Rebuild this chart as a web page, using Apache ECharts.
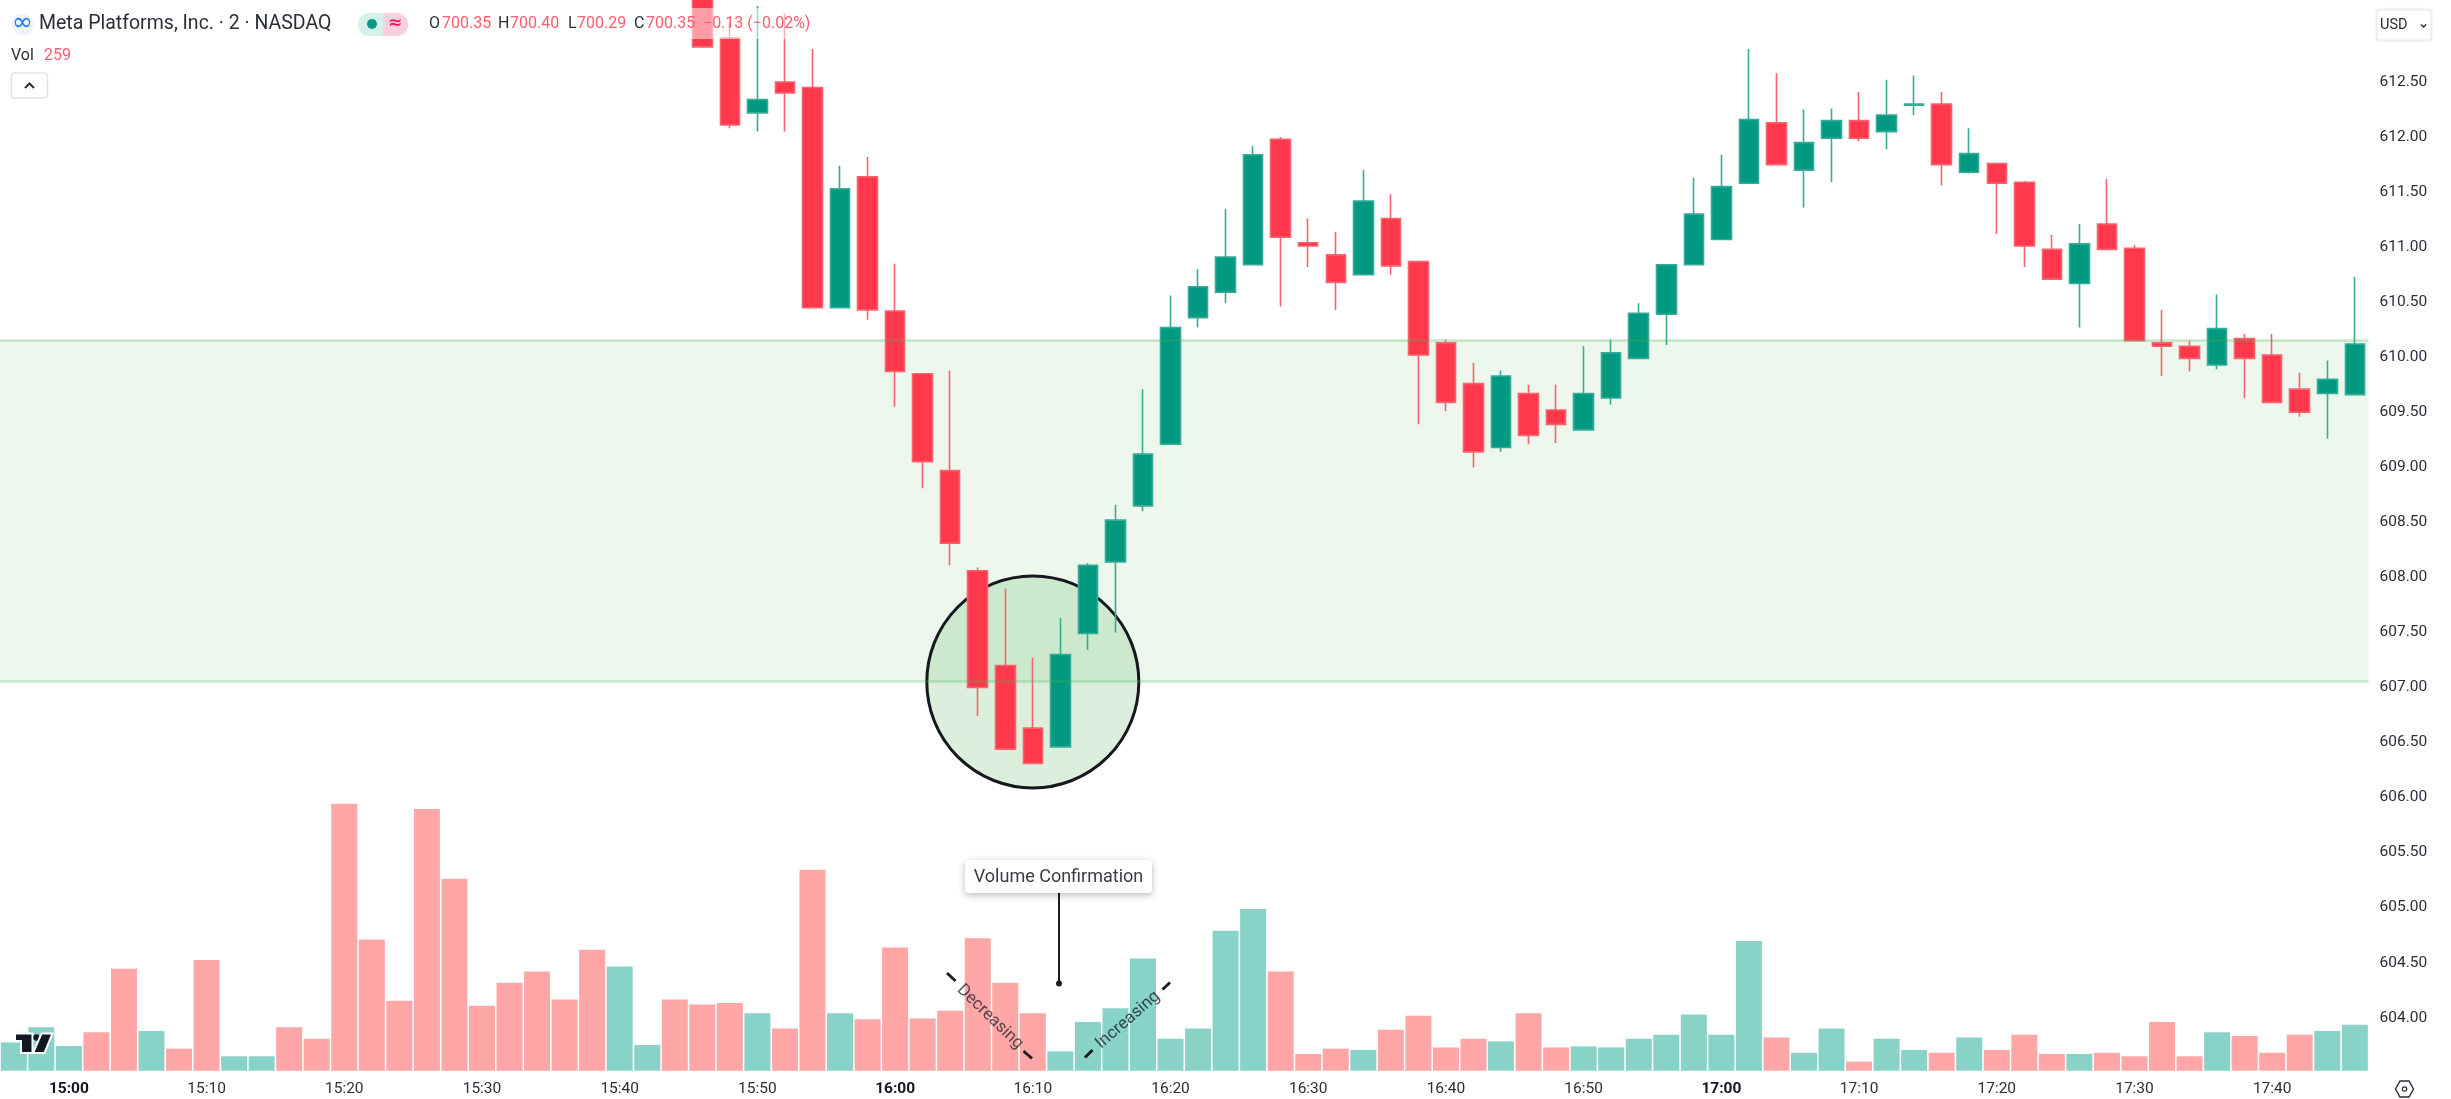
<!DOCTYPE html>
<html>
<head>
<meta charset="utf-8">
<title>META 2m</title>
<style>
html, body { margin: 0; padding: 0; background: #fff; }
#chart { width: 2451px; height: 1099px; }
</style>
<script src="https://cdn.jsdelivr.net/npm/echarts@6/dist/echarts.min.js"></script>
</head>
<body>
<div id="chart"></div>
<script>
var times = ['14:56','14:58','15:00','15:02','15:04','15:06','15:08','15:10','15:12','15:14','15:16','15:18','15:20','15:22','15:24','15:26','15:28','15:30','15:32','15:34','15:36','15:38','15:40','15:42','15:44','15:46','15:48','15:50','15:52','15:54','15:56','15:58','16:00','16:02','16:04','16:06','16:08','16:10','16:12','16:14','16:16','16:18','16:20','16:22','16:24','16:26','16:28','16:30','16:32','16:34','16:36','16:38','16:40','16:42','16:44','16:46','16:48','16:50','16:52','16:54','16:56','16:58','17:00','17:02','17:04','17:06','17:08','17:10','17:12','17:14','17:16','17:18','17:20','17:22','17:24','17:26','17:28','17:30','17:32','17:34','17:36','17:38','17:40','17:42','17:44','17:46'];

var tickLabels = ['15:00','15:10','15:20','15:30','15:40','15:50','16:00','16:10','16:20','16:30','16:40','16:50','17:00','17:10','17:20','17:30','17:40'];
var boldLabels = ['15:00','16:00','17:00'];

// bars before 15:46 are above the visible price range
var hiddenCandles = 25;

// open, close, low, high from 15:46
var candles = [
    [613.60,612.82,612.81,613.80],[612.90,612.11,612.08,613.04],[612.22,612.34,612.05,613.19],[612.50,612.40,612.05,613.12],
    [612.45,610.45,610.45,612.80],[610.45,611.53,610.45,611.74],[611.64,610.43,610.34,611.82],[610.42,609.87,609.55,610.85],
    [609.85,609.05,608.81,609.85],[608.97,608.31,608.11,609.88],[608.06,607.00,606.74,608.09],[607.20,606.44,606.44,607.90],
    [606.63,606.31,606.31,607.27],[606.46,607.30,606.46,607.63],[607.49,608.11,607.34,608.13],[608.14,608.52,607.50,608.66],
    [608.65,609.12,608.60,609.71],[609.21,610.27,609.21,610.56],[610.36,610.64,610.27,610.80],[610.59,610.91,610.49,611.35],
    [610.84,611.84,610.84,611.92],[611.98,611.09,610.46,612.00],[611.04,611.01,610.82,611.26],[610.93,610.68,610.43,611.14],
    [610.75,611.42,610.75,611.70],[611.26,610.83,610.75,611.48],[610.87,610.02,609.39,610.87],[610.13,609.59,609.51,610.16],
    [609.76,609.14,609.00,609.95],[609.18,609.83,609.14,609.88],[609.67,609.29,609.21,609.75],[609.52,609.39,609.22,609.75],
    [609.34,609.67,609.34,610.10],[609.63,610.04,609.57,610.16],[609.99,610.40,609.99,610.49],[610.39,610.84,610.11,610.84],
    [610.84,611.30,610.84,611.63],[611.07,611.55,611.07,611.84],[611.58,612.16,611.58,612.80],[612.13,611.75,611.75,612.58],
    [611.70,611.95,611.36,612.25],[611.99,612.15,611.59,612.26],[612.15,611.99,611.96,612.41],[612.05,612.20,611.89,612.52],
    [612.29,612.30,612.20,612.56],[612.30,611.75,611.56,612.41],[611.68,611.85,611.67,612.08],[611.76,611.58,611.12,611.76],
    [611.59,611.01,610.82,611.60],[610.98,610.71,610.71,611.11],[610.67,611.03,610.27,611.21],[611.21,610.98,610.98,611.62],
    [610.99,610.15,610.15,611.02],[610.13,610.10,609.83,610.43],[610.10,609.99,609.87,610.15],[609.93,610.26,609.89,610.57],
    [610.17,609.99,609.63,610.21],[610.02,609.59,609.59,610.21],[609.71,609.50,609.46,609.86],[609.67,609.80,609.26,609.97],
    [609.66,610.12,609.66,610.73]
];

var volumes = [159,244,139,216,574,224,124,623,81,81,244,180,1503,738,394,1473,1081,366,495,559,401,681,587,145,401,373,381,323,238,1132,323,289,694,294,338,745,495,323,109,274,351,631,180,238,788,910,559,94,124,117,231,310,131,180,165,323,131,137,131,180,203,317,203,730,187,101,238,51,180,117,101,187,117,203,94,94,101,81,274,81,216,195,101,203,224,259];
var volumeUp = [1,1,1,0,0,1,0,0,1,1, 0,0,0,0,0,0,0,0,0,0, 0,0,1,1,0,0,0,1,0,0, 1,0,0,0,0,0,0,0,1,1, 1,1,1,1,1,1,0,0,0,1, 0,0,0,0,1,0,0,1,1,1, 1,1,1,1,0,1,1,0,1,1, 0,1,0,0,0,1,0,0,0,0, 1,0,0,0,1,1];

var zoneTop = 610.15;
var zoneBottom = 607.06;
var circleCenter = ['16:10', 607.05];

var FONT = 'Roboto, "Noto Sans", sans-serif';
var INK = '#2a2e39';
var RED = '#ff5c6c';

var candleRows = [];
for (var i = 0; i < hiddenCandles; i++) candleRows.push(['-', '-', '-', '-']);
candleRows = candleRows.concat(candles);

var volumeRows = volumes.map(function (v, i) {
    return { value: v, itemStyle: { color: volumeUp[i] ? '#89d2c8' : '#ffa6a6' } };
});

function label(x, y, text, size, color, extra) {
    return {
        type: 'text', x: x, y: y, z: 50, silent: true,
        style: Object.assign({ text: text, font: (size || 16) + 'px ' + FONT, fill: color || INK, verticalAlign: 'middle' }, extra || {})
    };
}
function tick(x1, y1, x2, y2) {
    return {
        type: 'line', z: 50, silent: true,
        shape: { x1: x1, y1: y1, x2: x2, y2: y2 },
        style: { stroke: '#1b1d24', lineWidth: 3 }
    };
}

var graphics = [
    // header fades the candles behind it
    { type: 'rect', z: 40, silent: true, shape: { x: 0, y: 8, width: 815, height: 31 }, style: { fill: 'rgba(255,255,255,0.5)' } },
    { type: 'circle', z: 50, silent: true, shape: { cx: 22.5, cy: 24.5, r: 11 }, style: { fill: '#f0f3fa' } },
    label(22.5, 23, '∞', 25, '#1a7dff', { textAlign: 'center', font: '25px "DejaVu Sans"' }),
    label(39, 24, 'Meta Platforms, Inc. · 2 · NASDAQ', 19.5, INK),
    { type: 'rect', z: 50, silent: true, shape: { x: 358, y: 13, width: 26, height: 23, r: [11, 0, 0, 11] }, style: { fill: '#d5f1ec' } },
    { type: 'rect', z: 50, silent: true, shape: { x: 383, y: 13, width: 25, height: 23, r: [0, 11, 11, 0] }, style: { fill: '#fbd0de' } },
    { type: 'circle', z: 51, silent: true, shape: { cx: 372, cy: 24, r: 5 }, style: { fill: '#089981' } },
    label(395, 24, '≈', 17, '#e91e63', { textAlign: 'center', font: 'bold 17px "DejaVu Sans"' }),
    label(429, 24, 'O', 16, INK), label(442, 24, '700.35', 16, RED),
    label(498, 24, 'H', 16, INK), label(510, 24, '700.40', 16, RED),
    label(568, 24, 'L', 16, INK), label(577, 24, '700.29', 16, RED),
    label(634, 24, 'C', 16, INK), label(646, 24, '700.35', 16, RED),
    label(703, 24, '−0.13 (−0.02%)', 16, RED),
    label(11, 56, 'Vol', 16, INK), label(44, 56, '259', 16, RED),
    {
        type: 'rect', z: 50, silent: true, shape: { x: 11.5, y: 73, width: 36, height: 25, r: 3 },
        style: { fill: '#fff', stroke: '#e0e3eb', lineWidth: 1.5 }
    },
    {
        type: 'polyline', z: 51, silent: true, shape: { points: [[25, 88], [29.5, 83.5], [34, 88]] },
        style: { stroke: '#2a2e39', lineWidth: 2, fill: 'none' }
    },

    // currency button
    {
        type: 'rect', z: 50, silent: true, shape: { x: 2376.5, y: 9.5, width: 55, height: 31, r: 3 },
        style: { fill: '#fff', stroke: '#eceef2', lineWidth: 1.5, shadowBlur: 2, shadowColor: 'rgba(0,0,0,0.08)' }
    },
    label(2380, 25, 'USD', 14.5, INK),
    {
        type: 'polyline', z: 51, silent: true, shape: { points: [[2421, 24.5], [2423.5, 27], [2426, 24.5]] },
        style: { stroke: '#2a2e39', lineWidth: 1.5, fill: 'none' }
    },

    // callout
    {
        type: 'rect', z: 50, silent: true, shape: { x: 965, y: 860, width: 187, height: 33, r: 4 },
        style: { fill: '#fff', shadowBlur: 7, shadowOffsetY: 2, shadowColor: 'rgba(0,0,0,0.28)' }
    },
    label(1058.5, 877, 'Volume Confirmation', 18, '#3b3d45', { textAlign: 'center' }),
    { type: 'line', z: 50, silent: true, shape: { x1: 1059, y1: 893, x2: 1059, y2: 983 }, style: { stroke: '#1b1d24', lineWidth: 2 } },
    { type: 'circle', z: 50, silent: true, shape: { cx: 1059, cy: 983.5, r: 3 }, style: { fill: '#1b1d24' } },

    // Decreasing / Increasing notes
    tick(947, 973, 955.5, 981), tick(1023.5, 1051, 1032, 1058.5),
    tick(1085, 1057.5, 1092.5, 1050), tick(1162.5, 989.5, 1170, 982.5),
    {
        type: 'text', x: 990, y: 1017, rotation: -44 * Math.PI / 180, z: 50, silent: true,
        style: { text: 'Decreasing', font: '17px ' + FONT, fill: 'rgba(19,23,34,0.72)', textAlign: 'center', verticalAlign: 'middle' }
    },
    {
        type: 'text', x: 1128, y: 1020, rotation: 41 * Math.PI / 180, z: 50, silent: true,
        style: { text: 'Increasing', font: '17px ' + FONT, fill: 'rgba(19,23,34,0.76)', textAlign: 'center', verticalAlign: 'middle' }
    },

    // TradingView mark
    {
        type: 'polygon', z: 50, silent: true,
        shape: { points: [[15, 1033.5], [32.5, 1033.5], [32.5, 1053], [21, 1053], [21, 1041], [15, 1041]] },
        style: { fill: '#131722', stroke: '#fff', lineWidth: 2 }
    },
    { type: 'circle', z: 50, silent: true, shape: { cx: 36.5, cy: 1037.5, r: 3.2 }, style: { fill: '#131722' } },
    {
        type: 'polygon', z: 50, silent: true,
        shape: { points: [[41.5, 1033.5], [52.5, 1033.5], [44.5, 1053], [33, 1053]] },
        style: { fill: '#131722', stroke: '#fff', lineWidth: 2 }
    },

    // chart settings hexagon
    {
        type: 'polygon', z: 50, silent: true,
        shape: { points: [[2395.5, 1089], [2400, 1081], [2409, 1081], [2413.5, 1089], [2409, 1097], [2400, 1097]] },
        style: { fill: 'none', stroke: '#2a2e39', lineWidth: 1.4 }
    },
    { type: 'circle', z: 50, silent: true, shape: { cx: 2404.5, cy: 1089, r: 2.2 }, style: { fill: 'none', stroke: '#2a2e39', lineWidth: 1.2 } }
];

var myChart = echarts.init(document.getElementById('chart'), null, { renderer: 'canvas' });

var option = {
    animation: false,
    backgroundColor: '#fff',
    textStyle: { fontFamily: FONT },
    grid: [
        { left: -2.4, width: 2371, top: 5, height: 1067.7 },
        { left: -2.4, width: 2371, top: 697.7, height: 373 }
    ],
    xAxis: [
        { type: 'category', gridIndex: 0, data: times, show: false },
        {
            type: 'category', gridIndex: 1, data: times,
            axisLine: { show: false },
            axisTick: { show: false },
            splitLine: { show: false },
            axisLabel: {
                margin: 10.5,
                fontSize: 15.5,
                color: INK,
                interval: function (index, value) { return tickLabels.indexOf(value) >= 0; },
                formatter: function (value) {
                    return boldLabels.indexOf(value) >= 0 ? '{hour|' + value + '}' : value;
                },
                rich: { hour: { fontWeight: 'bold', fontSize: 15.5, color: '#131722' } }
            }
        }
    ],
    yAxis: [
        {
            type: 'value', gridIndex: 0, position: 'right',
            min: 603.5, max: 613.2, interval: 0.5,
            axisLine: { show: false },
            axisTick: { show: false },
            splitLine: { show: false },
            axisLabel: {
                margin: 11,
                fontSize: 15.5,
                color: INK,
                padding: [0, 0, 0, 0],
                verticalAlign: 'top',
                lineHeight: 0,
                showMinLabel: false,
                showMaxLabel: false,
                formatter: function (v) { return v.toFixed(2); }
            }
        },
        { type: 'value', gridIndex: 1, min: 0, max: 2100, show: false }
    ],
    series: [
        {
            name: 'Zone', type: 'line', xAxisIndex: 0, yAxisIndex: 0, data: [], z: 1,
            markArea: {
                silent: true,
                itemStyle: { color: 'rgba(76,175,80,0.1)', borderWidth: 0 },
                data: [[{ yAxis: zoneTop }, { yAxis: zoneBottom }]]
            },
            markLine: {
                silent: true,
                symbol: 'none',
                label: { show: false },
                lineStyle: { color: 'rgba(76,175,80,0.3)', width: 2.5, type: 'solid' },
                data: [{ yAxis: zoneTop }, { yAxis: zoneBottom }]
            }
        },
        {
            name: 'Circle', type: 'scatter', xAxisIndex: 0, yAxisIndex: 0, z: 2, silent: true,
            symbol: 'circle', symbolSize: 212,
            itemStyle: { color: 'rgba(76,175,80,0.2)', borderColor: '#16181f', borderWidth: 3, opacity: 1 },
            data: [circleCenter]
        },
        {
            name: 'Price', type: 'candlestick', xAxisIndex: 0, yAxisIndex: 0, z: 3,
            barWidth: 20,
            clip: true,
            itemStyle: {
                color: '#019a81',
                color0: '#ff384c',
                borderColor: '#36ab98',
                borderColor0: '#f9636f',
                borderWidth: 1.6
            },
            data: candleRows
        },
        {
            name: 'Vol', type: 'bar', xAxisIndex: 1, yAxisIndex: 1, z: 2,
            barWidth: 26,
            data: volumeRows
        }
    ],
    graphic: graphics
};

myChart.setOption(option);
</script>
</body>
</html>
